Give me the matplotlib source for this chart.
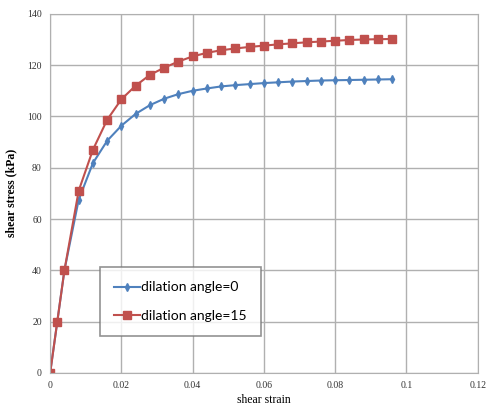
import numpy as np
import matplotlib.pyplot as plt

# strain values
strain = [0, 0.002, 0.004, 0.008, 0.012, 0.016, 0.020, 0.024, 0.028, 0.032, 0.036,
          0.040, 0.044, 0.048, 0.052, 0.056, 0.060, 0.064, 0.068, 0.072, 0.076,
          0.080, 0.084, 0.088, 0.092, 0.096]
# dilation angle = 0
stress_0 = [0, 20, 40, 67.5, 81.8, 90.5, 96.4, 101.0, 104.4, 106.9, 108.7,
            110.0, 110.9, 111.7, 112.2, 112.6, 113.0, 113.3, 113.6, 113.8, 114.0,
            114.1, 114.2, 114.3, 114.4, 114.5]
# dilation angle = 15
stress_15 = [0, 20, 40, 71.0, 87.0, 98.7, 106.7, 112.0, 116.2, 119.0, 121.4,
             123.4, 124.8, 125.8, 126.5, 127.1, 127.6, 128.1, 128.5, 128.9, 129.2,
             129.5, 129.8, 130.0, 130.1, 130.2]

xticks = [0, 0.02, 0.04, 0.06, 0.08, 0.1, 0.12]
xticklabels = ['0', '0.02', '0.04', '0.06', '0.08', '0.1', '0.12']
yticks = [0, 20, 40, 60, 80, 100, 120, 140]

fig = plt.figure(figsize=(4.87, 4.19), dpi=100)
ax = fig.add_axes([0.103, 0.11, 0.878, 0.857])

ax.plot(strain, stress_0, color='#4F81BD', marker='d', markersize=4, lw=1.5,
        label='dilation angle=0')
ax.plot(strain, stress_15, color='#C0504D', marker='s', markersize=5.5, lw=1.5,
        label='dilation angle=15')

ax.set_xlim(0, 0.12)
ax.set_ylim(0, 140)
ax.set_xticks(xticks)
ax.set_xticklabels(xticklabels)
ax.set_yticks(yticks)
ax.grid(True, color='#b0b0b0', lw=1)
ax.set_axisbelow(True)
for s in ax.spines.values():
    s.set_color('#b0b0b0')
ax.tick_params(length=0, pad=6, labelsize=7, labelcolor='#333333')
for lbl in ax.get_xticklabels() + ax.get_yticklabels():
    lbl.set_family('Liberation Serif')

ax.set_xlabel('shear strain', family='Liberation Serif', fontsize=8.5, labelpad=3)
ax.set_ylabel('shear stress (kPa)', family='Liberation Serif', fontsize=8.5,
              fontweight='bold', labelpad=7)

leg = ax.legend(loc='lower left', bbox_to_anchor=(0.116, 0.103),
                frameon=True, fancybox=False, edgecolor='#777777',
                borderpad=1.0, labelspacing=1.2, handlelength=1.9,
                handletextpad=0.1, borderaxespad=0,
                prop={'family': 'Lato', 'size': 10})
leg.get_frame().set_linewidth(1.2)
leg._legend_box.align = 'left'

fig.savefig('out.png', dpi=100)
